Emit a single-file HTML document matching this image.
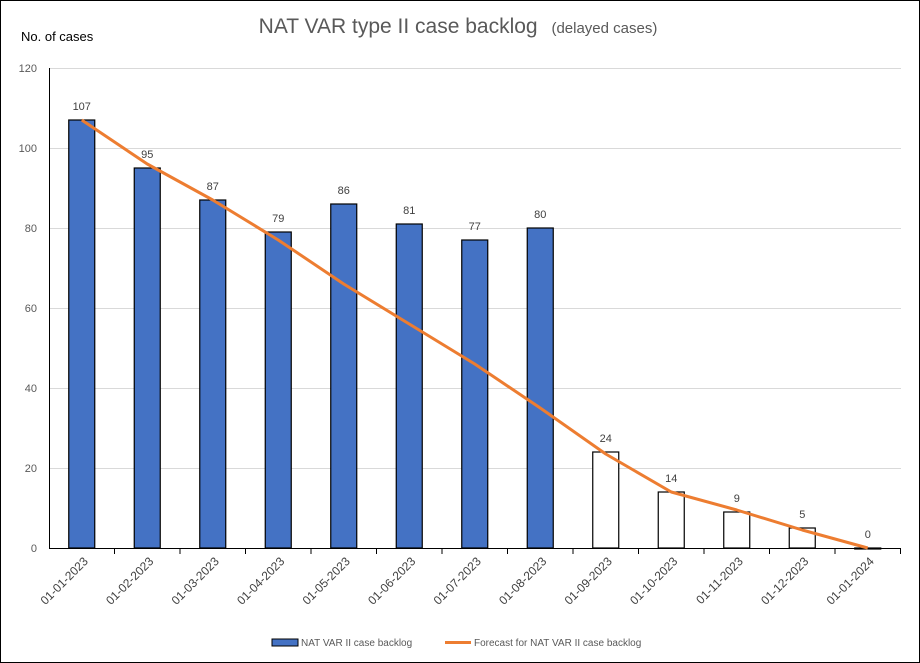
<!DOCTYPE html>
<html><head><style>body{margin:0;background:#fff}svg{display:block}text{font-family:"Liberation Sans",sans-serif}</style></head><body>
<svg width="920" height="663" viewBox="0 0 920 663">
<rect x="0.5" y="0.5" width="919" height="662" fill="#fff" stroke="#000"/>
<text x="458" y="33" text-anchor="middle" font-size="21" fill="#595959">NAT VAR type II case backlog <tspan font-size="15" dx="8">(delayed cases)</tspan></text>
<text x="21" y="41" font-size="13" fill="#000">No. of cases</text>
<g stroke="#d9d9d9" stroke-width="1">
<line x1="49" y1="68.5" x2="901" y2="68.5"/><line x1="49" y1="148.5" x2="901" y2="148.5"/><line x1="49" y1="228.5" x2="901" y2="228.5"/><line x1="49" y1="308.5" x2="901" y2="308.5"/><line x1="49" y1="388.5" x2="901" y2="388.5"/><line x1="49" y1="468.5" x2="901" y2="468.5"/>
</g>
<g font-size="11" fill="#595959" text-anchor="end">
<text x="37" y="72">120</text><text x="37" y="152">100</text><text x="37" y="232">80</text><text x="37" y="312">60</text><text x="37" y="392">40</text><text x="37" y="472">20</text><text x="37" y="552">0</text>
</g>
<g id="bars" stroke="#000" stroke-width="1.2"></g>
<line x1="49.5" y1="68" x2="49.5" y2="548" stroke="#000"/>
<line x1="49" y1="548.5" x2="901" y2="548.5" stroke="#000"/>
<g id="ticks" stroke="#000"></g>
<polyline id="fc" fill="none" stroke="#ed7d31" stroke-width="3" stroke-linejoin="round"/>
<g id="lbl" font-size="11" fill="#404040"></g>
<g id="xl" font-size="12" fill="#404040"></g>
<rect x="272" y="639" width="26" height="7" fill="#4472c4" stroke="#000"/>
<text x="301" y="646" font-size="10" fill="#595959">NAT VAR II case backlog</text>
<line x1="445" y1="642.5" x2="471" y2="642.5" stroke="#ed7d31" stroke-width="3"/>
<text x="474" y="646" font-size="10" fill="#595959">Forecast for NAT VAR II case backlog</text>
</svg>
<script>
var v=[107,95,87,79,86,81,77,80,24,14,9,5,0];
var f=[107,96,87,77,66,56,46,35,23.5,14,9.5,4.5,0];
var d=["01-01-2023","01-02-2023","01-03-2023","01-04-2023","01-05-2023","01-06-2023","01-07-2023","01-08-2023","01-09-2023","01-10-2023","01-11-2023","01-12-2023","01-01-2024"];
var ns="http://www.w3.org/2000/svg";function el(t,a,p,tx){var e=document.createElementNS(ns,t);for(var k in a)e.setAttribute(k,a[k]);if(tx!==undefined)e.textContent=tx;document.getElementById(p).appendChild(e);}
var pts=[];
for(var i=0;i<13;i++){var c=49+65.5*(i+0.5),y=548-4*v[i];
el("rect",{x:c-13,y:y,width:26,height:Math.max(4*v[i],1),fill:i<8?"#4472c4":"#fff"},"bars");
el("line",{x1:49+65.5*(i+1),y1:548,x2:49+65.5*(i+1),y2:554},"ticks");
el("text",{x:c,y:y-10,"text-anchor":"middle"},"lbl",v[i]);
el("text",{x:0,y:0,"text-anchor":"end",transform:"translate("+(c+7)+",562) rotate(-45)"},"xl",d[i]);
pts.push(c+","+(548-4*f[i]));}
document.getElementById("fc").setAttribute("points",pts.join(" "));
</script>
</body></html>
